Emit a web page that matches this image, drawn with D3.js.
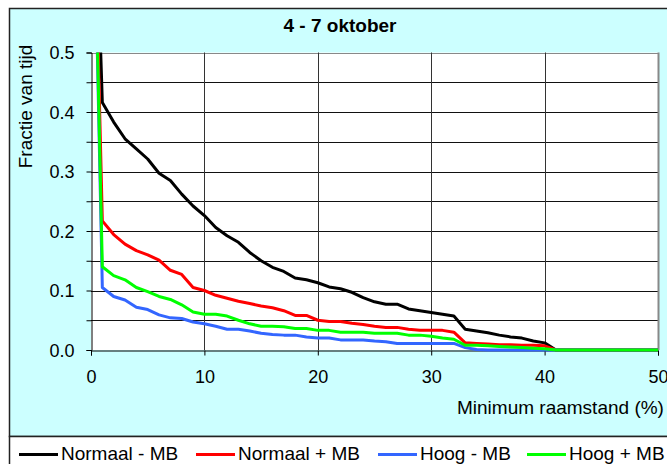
<!DOCTYPE html>
<html>
<head>
<meta charset="UTF-8">
<title>4 - 7 oktober</title>
</head>
<body style="margin:0;background:#fff;">
<style>
text {
  fill: #000;
  font-family: "Liberation Sans", Arial, sans-serif;
}
</style>

<svg width="667" height="464"></svg>

<script src="https://d3js.org/d3.v7.min.js"></script>

<script>
// x = minimum raamstand (%), one point per percent
var raamstand = [0,1,2,3,4,5,6,7,8,9,10,11,12,13,14,15,16,17,18,19,20,21,22,23,24,25,
                 26,27,28,29,30,31,32,33,34,35,36,37,38,39,40,41,42,43,44,45,46,47,48,49,50];

var normaalMin = [1.0,0.416,0.383,0.355,0.338,0.321,0.297,0.285,0.262,0.242,0.226,0.206,0.192,0.181,0.164,0.150,
                  0.139,0.132,0.121,0.118,0.113,0.106,0.103,0.097,0.088,0.081,0.077,0.077,0.069,0.066,0.063,0.060,
                  0.057,0.035,0.032,0.029,0.025,0.022,0.020,0.015,0.012,0,0,0,0,0,0,0,0,0,0];
var normaalPlus = [1.0,0.217,0.194,0.178,0.167,0.160,0.151,0.134,0.127,0.105,0.100,0.092,0.087,0.082,0.078,0.074,
                   0.071,0.066,0.058,0.058,0.050,0.048,0.048,0.045,0.043,0.040,0.038,0.038,0.035,0.033,0.033,0.033,
                   0.030,0.012,0.011,0.010,0.009,0.009,0.008,0.008,0.007,0,0,0,0,0,0,0,0,0,0];
var hoogMin = [1.0,0.105,0.090,0.084,0.072,0.068,0.059,0.054,0.053,0.047,0.044,0.040,0.035,0.035,0.032,0.028,
               0.026,0.025,0.025,0.022,0.020,0.020,0.017,0.017,0.017,0.015,0.014,0.011,0.011,0.011,0.011,0.011,
               0.011,0.004,0.001,0,0,0,0,0,0,0,0,0,0,0,0,0,0,0,0];
var hoogPlus = [1.0,0.140,0.125,0.118,0.105,0.098,0.090,0.085,0.076,0.064,0.060,0.060,0.057,0.050,0.044,0.040,
                0.040,0.039,0.036,0.036,0.033,0.033,0.030,0.030,0.030,0.028,0.028,0.028,0.025,0.025,0.023,0.020,
                0.018,0.008,0.008,0.007,0.006,0.005,0.004,0.003,0.002,0,0,0,0,0,0,0,0,0,0];

var seriesNames = ["Normaal - MB", "Normaal + MB", "Hoog - MB", "Hoog + MB"];
var seriesColors = ["#000000", "#ff0000", "#3366ff", "#00ff00"];
var seriesValues = [normaalMin, normaalPlus, hoogMin, hoogPlus];

var xTicks = [0,10,20,30,40,50];
var yTicks = [0,0.05,0.1,0.15,0.2,0.25,0.3,0.35,0.4,0.45,0.5];

var svg = d3.select("svg"),
    plotLeft = 91, plotRight = 658, plotTop = 52.5, plotBottom = 350;

var x = d3.scaleLinear().domain([0, 50]).range([plotLeft, plotRight]);
var y = d3.scaleLinear().domain([0, 0.5]).range([plotBottom, plotTop]);

// chart area
svg.append("rect")
  .attr("x", 9.5).attr("y", 8.5)
  .attr("width", 700).attr("height", 428)
  .attr("fill", "#ccffff")
  .attr("stroke", "#222").attr("stroke-width", 1.5);

// plot area
svg.append("rect")
  .attr("x", plotLeft).attr("y", plotTop)
  .attr("width", plotRight - plotLeft).attr("height", plotBottom - plotTop)
  .attr("fill", "#fff");

// horizontal grid
svg.selectAll(".hgrid").data(yTicks.slice(1)).enter().append("line")
  .attr("x1", plotLeft).attr("x2", plotRight)
  .attr("y1", function(d){ return Math.round(y(d)) + 0.5; })
  .attr("y2", function(d){ return Math.round(y(d)) + 0.5; })
  .attr("stroke", function(d){ return d == 0.5 ? "#888" : "#111"; })
  .attr("stroke-width", 1);

// vertical grid
svg.selectAll(".vgrid").data(xTicks.slice(1, 5)).enter().append("line")
  .attr("x1", function(d){ return Math.round(x(d)) + 0.5; })
  .attr("x2", function(d){ return Math.round(x(d)) + 0.5; })
  .attr("y1", plotTop).attr("y2", plotBottom)
  .attr("stroke", "#333").attr("stroke-width", 1);

// right border of plot
svg.append("line")
  .attr("x1", plotRight + 0.5).attr("x2", plotRight + 0.5)
  .attr("y1", plotTop).attr("y2", plotBottom)
  .attr("stroke", "#888").attr("stroke-width", 2);

// axes
var yAxis = svg.append("g")
  .attr("transform", "translate(" + (plotLeft + 0.5) + ",0)")
  .call(d3.axisLeft(y).tickValues(yTicks).tickSize(5).tickPadding(12)
        .tickFormat(function(d){ return Math.round(d * 100) % 10 == 0 ? d3.format(".1f")(d) : ""; }));
yAxis.select(".domain").attr("stroke", "#000");
yAxis.selectAll("text").style("font-size", "18px").attr("dy", "0.35em");

var xAxis = svg.append("g")
  .attr("transform", "translate(0," + (plotBottom + 0.5) + ")")
  .call(d3.axisBottom(x).tickValues(xTicks).tickSize(5).tickPadding(15));
xAxis.select(".domain").attr("stroke", "#000");
xAxis.selectAll("text").style("font-size", "18px");

// lines
svg.append("clipPath").attr("id", "plotclip")
  .append("rect")
  .attr("x", plotLeft).attr("y", plotTop)
  .attr("width", plotRight - plotLeft + 1).attr("height", plotBottom - plotTop + 2);

var line = d3.line()
  .x(function(d, i){ return x(raamstand[i]); })
  .y(function(d){ return y(d); });

svg.append("g").attr("clip-path", "url(#plotclip)")
  .selectAll("path").data(seriesValues).enter().append("path")
  .attr("d", line)
  .attr("fill", "none")
  .attr("stroke", function(d, i){ return seriesColors[i]; })
  .attr("stroke-width", 3)
  .attr("stroke-linejoin", "round");

// titles
svg.append("text").text("4 - 7 oktober")
  .attr("x", 340).attr("y", 31.5)
  .attr("text-anchor", "middle")
  .style("font-size", "19px").style("font-weight", "bold");

svg.append("text").text("Fractie van tijd")
  .attr("transform", "translate(31.5,106.5) rotate(-90)")
  .attr("text-anchor", "middle")
  .style("font-size", "19px");

svg.append("text").text("Minimum raamstand (%)")
  .attr("x", 457).attr("y", 414)
  .style("font-size", "19px");

// legend
svg.append("rect")
  .attr("x", 9.5).attr("y", 436.5)
  .attr("width", 700).attr("height", 40)
  .attr("fill", "#fff")
  .attr("stroke", "#222").attr("stroke-width", 1.5);

var legendX = [19, 196, 378, 527];

var legend = svg.selectAll(".legend").data(seriesNames).enter().append("g");
legend.append("line")
  .attr("x1", function(d, i){ return legendX[i]; })
  .attr("x2", function(d, i){ return legendX[i] + 39; })
  .attr("y1", 454.5).attr("y2", 454.5)
  .attr("stroke", function(d, i){ return seriesColors[i]; })
  .attr("stroke-width", 3);
legend.append("text").text(function(d){ return d; })
  .attr("x", function(d, i){ return legendX[i] + 42; })
  .attr("y", 459.5)
  .style("font-size", "19px");
</script>
</body>
</html>
